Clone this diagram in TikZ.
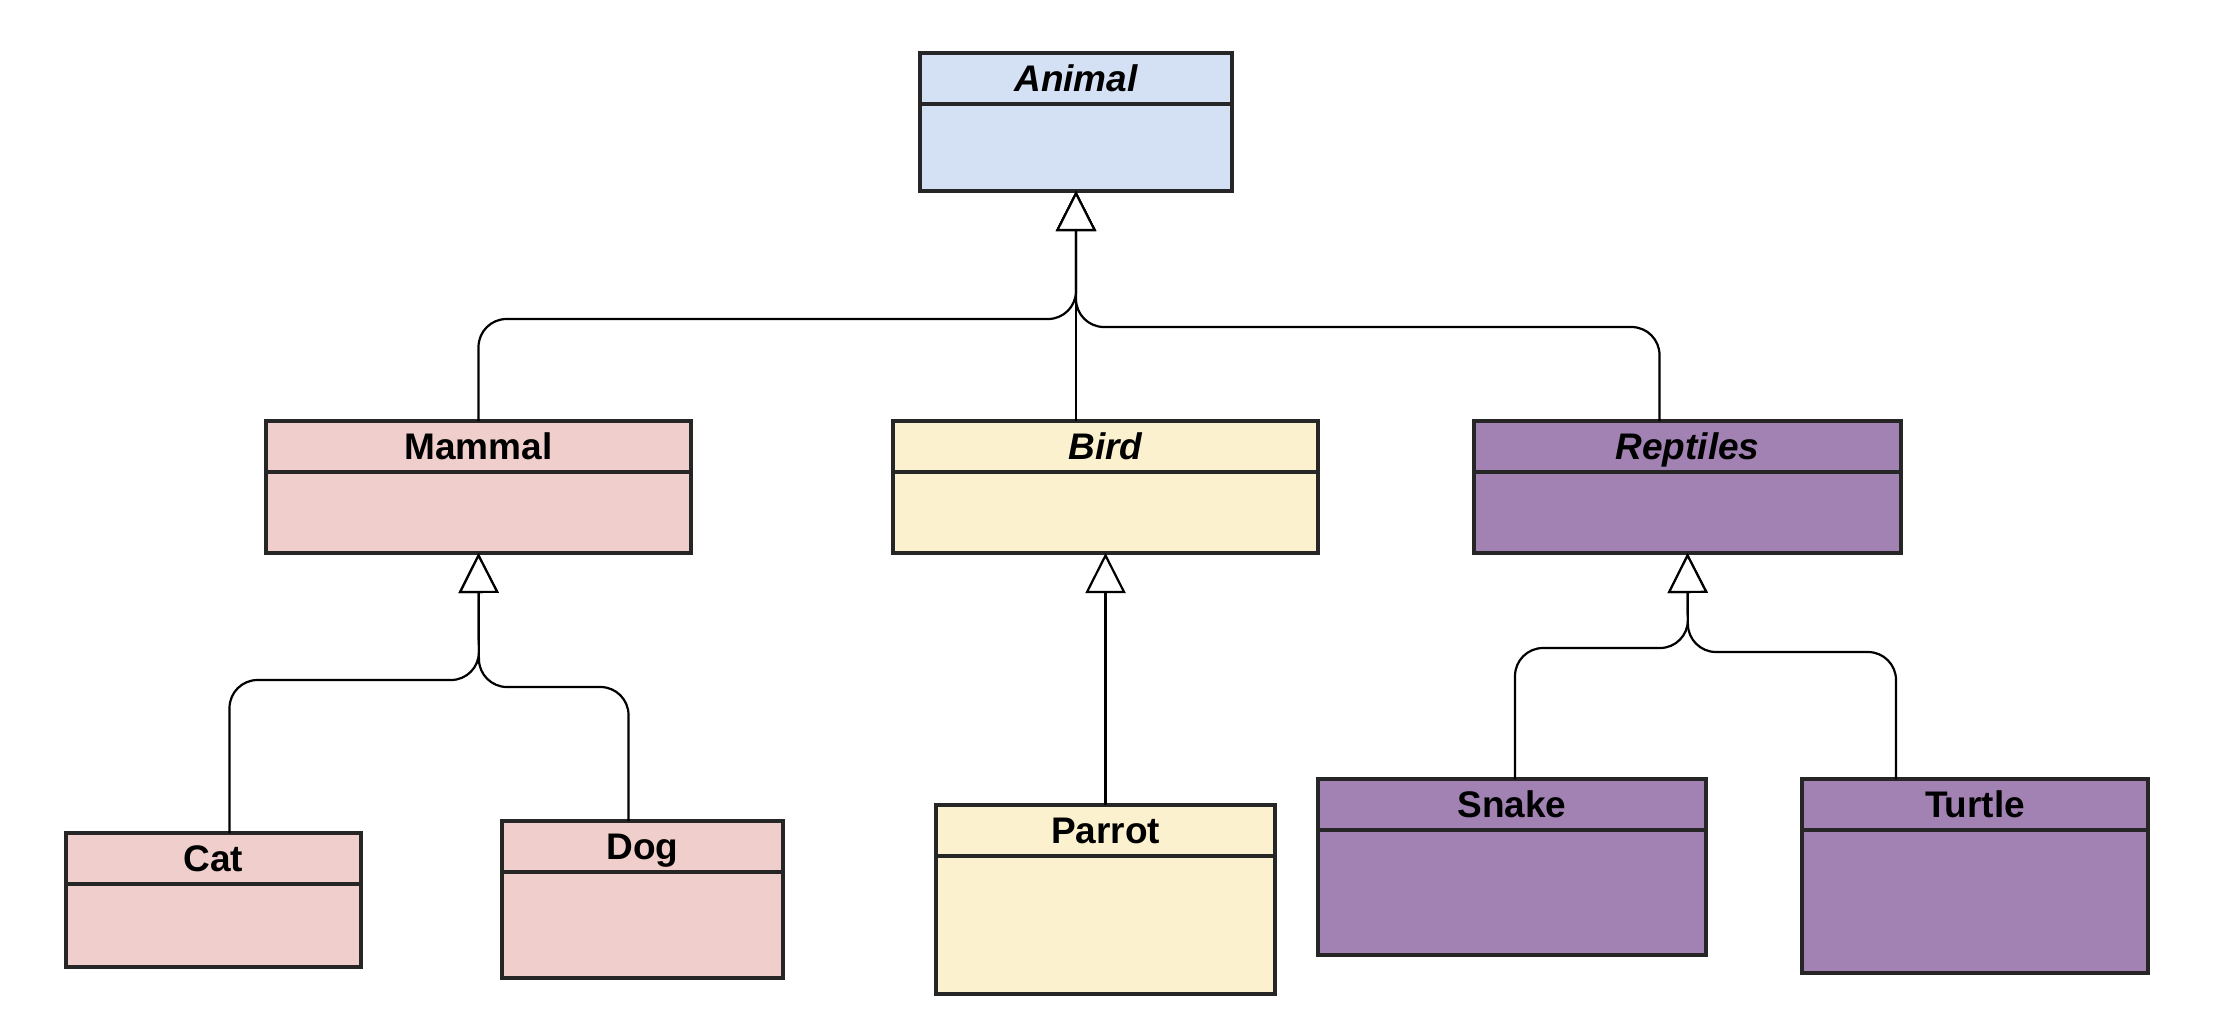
\documentclass[tikz,border=0pt]{standalone}
\usepackage{fontspec}
\setmainfont{Liberation Sans}
\usetikzlibrary{arrows.meta,fit,calc}
\definecolor{animalfill}{RGB}{212,225,245}
\definecolor{mammalfill}{RGB}{240,206,204}
\definecolor{birdfill}{RGB}{252,241,206}
\definecolor{reptfill}{RGB}{161,130,179}
\tikzset{
  boxline/.style={draw=black!85, line width=1.6pt},
  clsbox/.style={boxline, inner sep=0pt, outer sep=0pt},
  title/.style={font=\fontsize{18.5}{22}\selectfont\bfseries, text=black, inner sep=0pt, anchor=base},
  ititle/.style={font=\fontsize{18.5}{22}\selectfont\bfseries\itshape, text=black, inner sep=0pt, anchor=base},
  inh/.style={draw=black, line width=1.1pt, rounded corners=14pt,
    -{Triangle[width=20pt,length=20pt,fill=white]}},
}
\newcommand\umlclass[7]{%
  \node[clsbox, fill=#6, fit={(#2,#3) (#4,#5)}] (#1) {};
  \draw[boxline] (#2,{#3+51}) -- (#4,{#3+51});
  \node[#7] (#1T) at ({(#2+#4)/2},{#3+38.5}) {#1};
}
\begin{document}
\begin{tikzpicture}[x=0.5pt,y=-0.5pt]
\useasboundingbox[fill=white] (0,0) rectangle (2230,1030);
\umlclass{Animal}{920}{53}{1232}{191}{animalfill}{ititle}
\umlclass{Mammal}{266}{421}{691}{553}{mammalfill}{title}
\umlclass{Bird}{893}{421}{1318}{553}{birdfill}{ititle}
\umlclass{Reptiles}{1474}{421}{1901}{553}{reptfill}{ititle}
\umlclass{Cat}{66}{833}{361}{967}{mammalfill}{title}
\umlclass{Dog}{502}{821}{783}{978}{mammalfill}{title}
\umlclass{Parrot}{936}{805}{1275}{994}{birdfill}{title}
\umlclass{Snake}{1318}{779}{1706}{955}{reptfill}{title}
\umlclass{Turtle}{1802}{779}{2148}{973}{reptfill}{title}
% Animal generalisations
\draw[inh] (Mammal.north) |- (1076,319) -- (Animal.south);
\draw[inh] (Animal.south |- Bird.north) -- (Animal.south);
\draw[inh] ($(Reptiles.north)+(-28,0)$) |- (1076,327) -- (Animal.south);
% Mammal
\draw[inh] ($(Cat.north)+(16,0)$) |- (479,680) -- (Mammal.south);
\draw[inh] ($(Dog.north)+(-14,0)$) |- (479,687) -- (Mammal.south);
% Bird
\draw[inh] (Parrot.north) -- (Bird.south);
% Reptiles
\draw[inh] ($(Snake.north)+(3,0)$) |- (1688,648) -- (Reptiles.south);
\draw[inh] ($(Turtle.north)+(-79,0)$) |- (1688,652) -- (Reptiles.south);
\end{tikzpicture}
\end{document}
